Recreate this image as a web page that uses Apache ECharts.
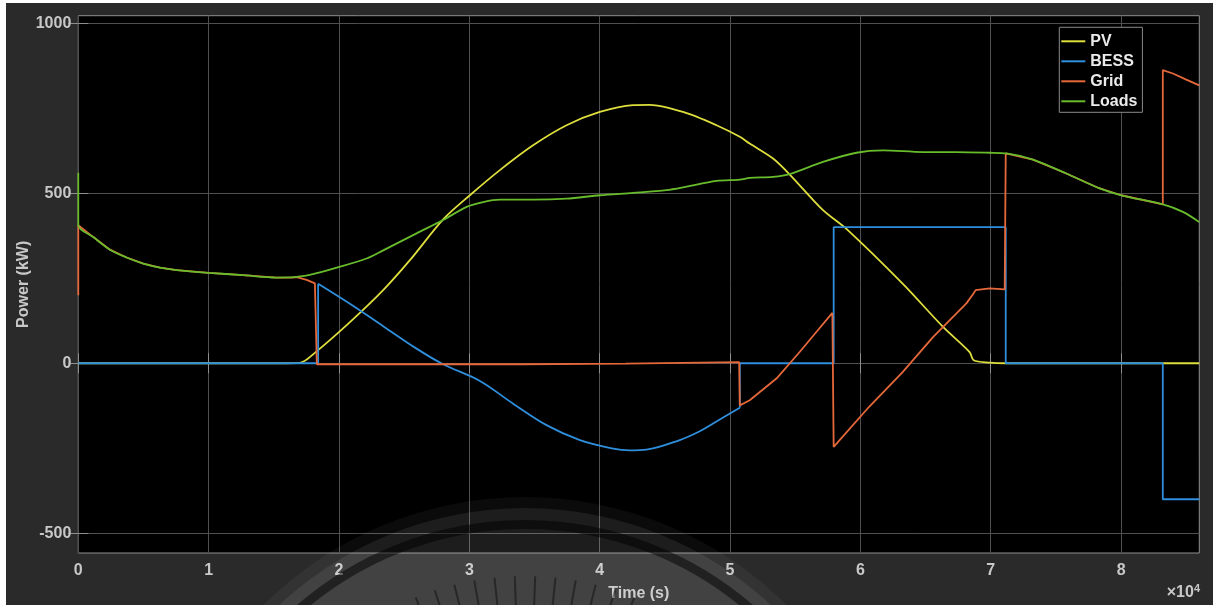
<!DOCTYPE html>
<html><head><meta charset="utf-8">
<script src="https://cdn.jsdelivr.net/npm/echarts@6/dist/echarts.min.js"></script>
<style>html,body{margin:0;padding:0;background:#fff;width:1213px;height:605px;overflow:hidden}
#c{position:absolute;left:6px;top:3px;width:1207px;height:602px}</style>
</head><body><div id="c"></div>
<script>
// ---- data (time in s, power in kW) ----
const xTicks = [0,10000,20000,30000,40000,50000,60000,70000,80000];
const yTicks = [-500,0,500,1000];
const seriesNames = ['PV','BESS','Grid','Loads'];

const pvData = [[0,0],[15980,0],[17000,1],[18280,35],[20840,121],[23390,215],[25440,303],[27990,423],[30040,494],[32340,568],[34890,641],[37460,700],[40010,739],[42560,759],[43840,760],[46400,739],[48960,700],[50750,666],[51510,646],[53300,602],[54580,555],[57130,450],[58930,395],[63240,234],[66340,107],[68380,33],[68690,9],[69920,2],[71070,0],[86000,0]];

// BESS: smooth discharge/charge curve, then the step schedule
const bessCurve = [[18400,234],[20840,175],[23390,109],[25950,43],[27990,-3],[30810,-52],[33360,-119],[35920,-182],[38480,-226],[41030,-251],[42310,-256],[43590,-254],[46140,-226],[47680,-200],[48700,-177],[50750,-131]];
const bessSteps = [[0,0],[18400,0],[18400,234],null,[50750,-131],[50750,0],[57950,0],[57950,400],[71150,400],[71150,0],[83200,0],[83200,-400],[86000,-400]];

const gridData = [[0,200],[0,406],[1150,371],[2430,334],[3710,311],[4990,293],[6270,281],[7550,274],[10000,266],[12650,259],[15200,252],[16500,252],[16750,253],[17520,245],[18150,235],[18300,230],[18300,-3],[34000,-3],[42000,-1],[50700,3],[50750,3],[50750,-124],[51510,-109],[53560,-45],[55340,33],[56620,92],[57850,148],[57950,148],[57950,-246],[60670,-128],[63240,-26],[65570,77],[68130,176],[68640,203],[68840,215],[69920,220],[71070,217],[71150,217],[71150,617],[73240,599],[75800,558],[78360,514],[80020,494],[83200,467],[83200,862],[83970,852],[85000,834],[86000,817]];

const loadsData = [[0,560],[0,406],[1150,371],[2430,334],[3710,311],[4990,293],[6270,281],[7550,274],[10000,266],[12650,259],[15200,252],[16500,253],[17770,260],[18540,267],[19560,278],[22120,308],[23390,332],[25950,382],[27990,421],[29790,460],[31060,474],[32340,481],[34890,481],[37460,484],[40010,494],[42560,501],[45120,509],[46400,517],[48960,536],[50750,540],[51510,545],[53300,548],[54580,556],[57130,592],[59700,619],[61740,626],[64800,621],[67370,621],[69920,619],[71200,617],[73240,599],[75800,558],[78360,514],[80020,494],[83210,467],[84740,445],[86000,415]];

const colors = {PV:'#dede3c', BESS:'#2f8fdd', Grid:'#e5683a', Loads:'#68bc2c'};

// ---- chart ----
const chart = echarts.init(document.getElementById('c'), null, {renderer:'canvas'});
const OX = 6, OY = 3;
const cx = 525 - OX, cy = 868 - OY;
const wm = [
  {type:'circle', shape:{cx:cx, cy:cy, r:371}, style:{fill:'rgba(255,255,255,0.045)'}, silent:true, z:100},
  {type:'circle', shape:{cx:cx, cy:cy, r:360}, style:{fill:'rgba(255,255,255,0.075)'}, silent:true, z:100},
  {type:'circle', shape:{cx:cx, cy:cy, r:343.5}, style:{fill:null, stroke:'rgba(0,0,0,0.5)', lineWidth:9}, silent:true, z:101}
];
for (let a = 196; a <= 344; a += 4) {
  const r = a * Math.PI / 180;
  wm.push({type:'line', shape:{x1:cx+235*Math.cos(r), y1:cy+235*Math.sin(r), x2:cx+292*Math.cos(r), y2:cy+292*Math.sin(r)},
    style:{stroke:'rgba(0,0,0,0.4)', lineWidth:2}, silent:true, z:101});
}
wm.push({type:'text', right: 1213 - 1200, top: 583 - OY, z:102,
  style:{text:'{a|×10}{b|4}', rich:{a:{fontSize:16, fontWeight:'bold', fill:'#c8c8c8', fontFamily:'Liberation Sans, Arial, sans-serif'},
    b:{fontSize:11, fontWeight:'bold', fill:'#c8c8c8', fontFamily:'Liberation Sans, Arial, sans-serif', padding:[0,0,9,0]}}}});

const labelFont = {color:'#c8c8c8', fontSize:16, fontWeight:'bold', fontFamily:'Liberation Sans, Arial, sans-serif'};
const tickStyle = {lineStyle:{color:'#8f8f8f', width:1}};

const mk = (name, data, smooth, z) => ({
  name:name, type:'line', data:data, xAxisIndex:0, yAxisIndex:0, connectNulls:false,
  showSymbol:false, symbol:'none', smooth:smooth, color:colors[name],
  lineStyle:{color:colors[name], width:1.8}, z:z
});

chart.setOption({
  animation:false,
  backgroundColor:'#2a2a2a',
  grid:{left:78.3-OX, top:15.7-OY, right:1213-1199.3, bottom:605-553, containLabel:false, outerBoundsMode:'none',
    show:true, backgroundColor:'#000', borderColor:'#8f8f8f', borderWidth:1},
  legend:{orient:'vertical', left:1059.3-OX, top:27.3-OY, padding:[6,5,3,2], itemGap:4, itemWidth:24, itemHeight:2, itemTextGap:3,
    icon:'rect', backgroundColor:'#000', borderColor:'#8a8a8a', borderWidth:1,
    textStyle:{color:'#ebebeb', fontSize:16, fontWeight:'bold', lineHeight:16, fontFamily:'Liberation Sans, Arial, sans-serif'},
    data:seriesNames},
  xAxis:[{type:'value', min:0, max:86000, name:'Time (s)', nameLocation:'middle', nameGap:33, nameMoveOverlap:false,
    nameTextStyle:labelFont,
    axisLine:{show:false},
    axisTick:{show:true, inside:true, length:10, customValues:xTicks, ...tickStyle},
    axisLabel:{...labelFont, margin:10, customValues:xTicks, formatter:v => String(v/10000)},
    splitLine:{show:true, lineStyle:{color:'#505050', width:1}}},
   {type:'value', position:'top', min:0, max:86000,
    axisLine:{show:false}, axisLabel:{show:false}, splitLine:{show:false},
    axisTick:{show:true, inside:true, length:10, customValues:xTicks, ...tickStyle}}],
  yAxis:[{type:'value', min:-558, max:1022, name:'Power (kW)', nameLocation:'middle', nameGap:47, nameMoveOverlap:false,
    nameTextStyle:labelFont,
    axisLine:{show:false},
    axisTick:{show:true, inside:true, length:10, customValues:yTicks, ...tickStyle},
    axisLabel:{...labelFont, margin:7, customValues:yTicks, formatter:v => String(v)},
    splitLine:{show:true, lineStyle:{color:'#505050', width:1}}},
   {type:'value', position:'right', min:-558, max:1022,
    axisLine:{show:false}, axisLabel:{show:false}, splitLine:{show:false},
    axisTick:{show:true, inside:true, length:10, customValues:yTicks, ...tickStyle}}],
  series:[
    mk('PV', pvData, 0.3, 2),
    mk('BESS', bessSteps, false, 3),
    mk('BESS', bessCurve, 0.35, 3),
    mk('Grid', gridData, false, 4),
    mk('Loads', loadsData, 0.3, 5)
  ],
  graphic: wm
});
</script></body></html>
